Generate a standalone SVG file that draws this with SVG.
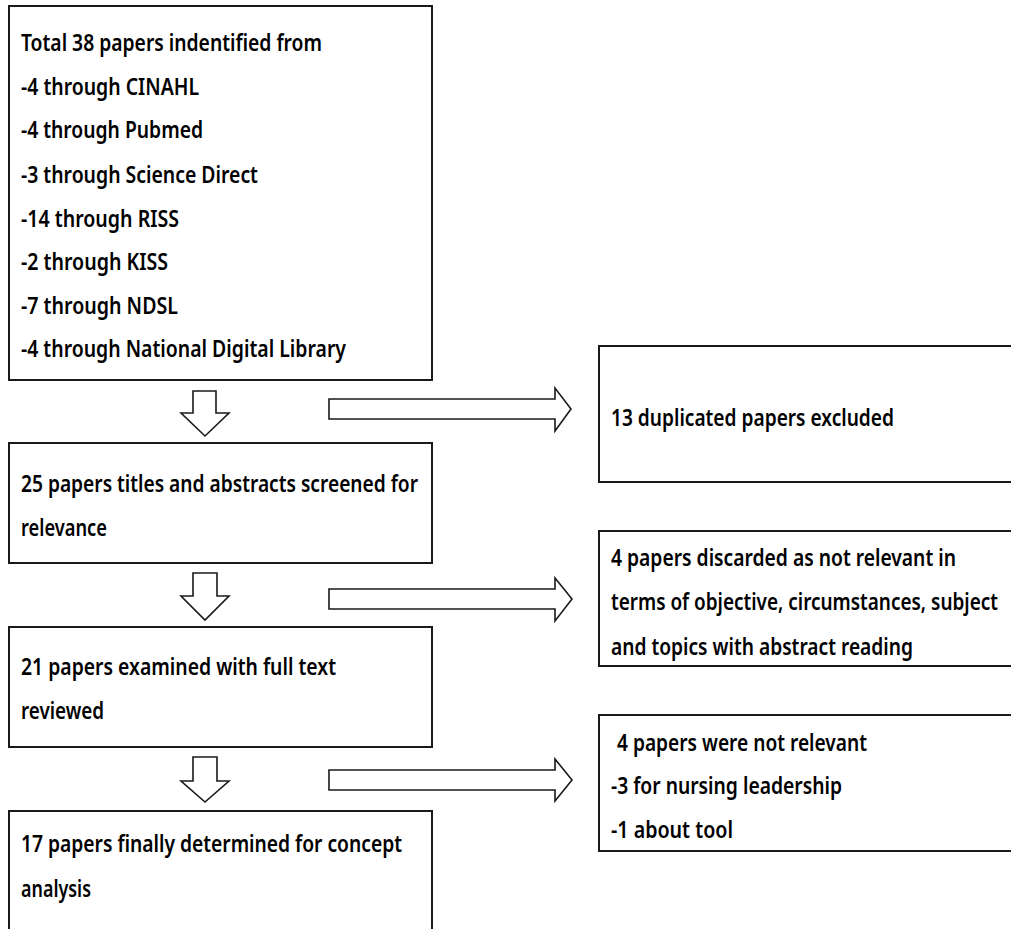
<svg xmlns="http://www.w3.org/2000/svg" width="1011" height="929" viewBox="0 0 1011 929">
<style>
.box{fill:#fff;stroke:#1a1a1a;stroke-width:2}
.arr{fill:#fff;stroke:#1a1a1a;stroke-width:1.6;stroke-linejoin:miter}
text{font-family:"Noto Sans","DejaVu Sans",sans-serif;font-weight:600;font-size:24px;fill:#000}
</style>
<rect width="1011" height="929" fill="#fff"/>
<g id="connectors">
<polygon class="arr" points="193,391 216,391 216,413 229,413 205,436 181,413 193,413"/>
<polygon class="arr" points="193,573 217,573 217,596 229,596 205,620 181,596 193,596"/>
<polygon class="arr" points="193,757 217,757 217,781 229,781 205,802 181,781 193,781"/>
<polygon class="arr" points="329,399 555,399 555,388 571,409 555,431 555,419 329,419"/>
<polygon class="arr" points="329,589 555,589 555,578 572,599 555,621 555,609 329,609"/>
<polygon class="arr" points="329,770 555,770 555,759 572,780 555,801 555,790 329,790"/>
</g>
<g id="n1">
<rect class="box" x="9" y="6" width="423" height="374"/>
<text x="21" y="51" textLength="301" lengthAdjust="spacingAndGlyphs">Total 38 papers indentified from</text>
<text x="21" y="95" textLength="178" lengthAdjust="spacingAndGlyphs">-4 through CINAHL</text>
<text x="21" y="138" textLength="182" lengthAdjust="spacingAndGlyphs">-4 through Pubmed</text>
<text x="21" y="183" textLength="237" lengthAdjust="spacingAndGlyphs">-3 through Science Direct</text>
<text x="21" y="227" textLength="158" lengthAdjust="spacingAndGlyphs">-14 through RISS</text>
<text x="21" y="270" textLength="147" lengthAdjust="spacingAndGlyphs">-2 through KISS</text>
<text x="21" y="314" textLength="157" lengthAdjust="spacingAndGlyphs">-7 through NDSL</text>
<text x="21" y="357" textLength="325" lengthAdjust="spacingAndGlyphs">-4 through National Digital Library</text>
</g>
<g id="n2">
<rect class="box" x="9" y="443" width="423" height="120"/>
<text x="21" y="492" textLength="397" lengthAdjust="spacingAndGlyphs">25 papers titles and abstracts screened for</text>
<text x="21" y="536" textLength="86" lengthAdjust="spacingAndGlyphs">relevance</text>
</g>
<g id="n3">
<rect class="box" x="9" y="627" width="423" height="120"/>
<text x="21" y="675" textLength="315" lengthAdjust="spacingAndGlyphs">21 papers examined with full text</text>
<text x="21" y="719" textLength="83" lengthAdjust="spacingAndGlyphs">reviewed</text>
</g>
<g id="n4">
<rect class="box" x="9" y="811" width="423" height="140"/>
<text x="21" y="852" textLength="381" lengthAdjust="spacingAndGlyphs">17 papers finally determined for concept</text>
<text x="21" y="897" textLength="70" lengthAdjust="spacingAndGlyphs">analysis</text>
</g>
<g id="r1">
<rect class="box" x="599" y="346" width="430" height="136"/>
<text x="611" y="426" textLength="283" lengthAdjust="spacingAndGlyphs">13 duplicated papers excluded</text>
</g>
<g id="r2">
<rect class="box" x="599" y="531" width="430" height="135"/>
<text x="611" y="566" textLength="345" lengthAdjust="spacingAndGlyphs">4 papers discarded as not relevant in</text>
<text x="611" y="610" textLength="387" lengthAdjust="spacingAndGlyphs">terms of objective, circumstances, subject</text>
<text x="611" y="655" textLength="302" lengthAdjust="spacingAndGlyphs">and topics with abstract reading</text>
</g>
<g id="r3">
<rect class="box" x="599" y="715" width="430" height="136"/>
<text x="617" y="751" textLength="250" lengthAdjust="spacingAndGlyphs">4 papers were not relevant</text>
<text x="611" y="794" textLength="231" lengthAdjust="spacingAndGlyphs">-3 for nursing leadership</text>
<text x="611" y="838" textLength="122" lengthAdjust="spacingAndGlyphs">-1 about tool</text>
</g>
</svg>
